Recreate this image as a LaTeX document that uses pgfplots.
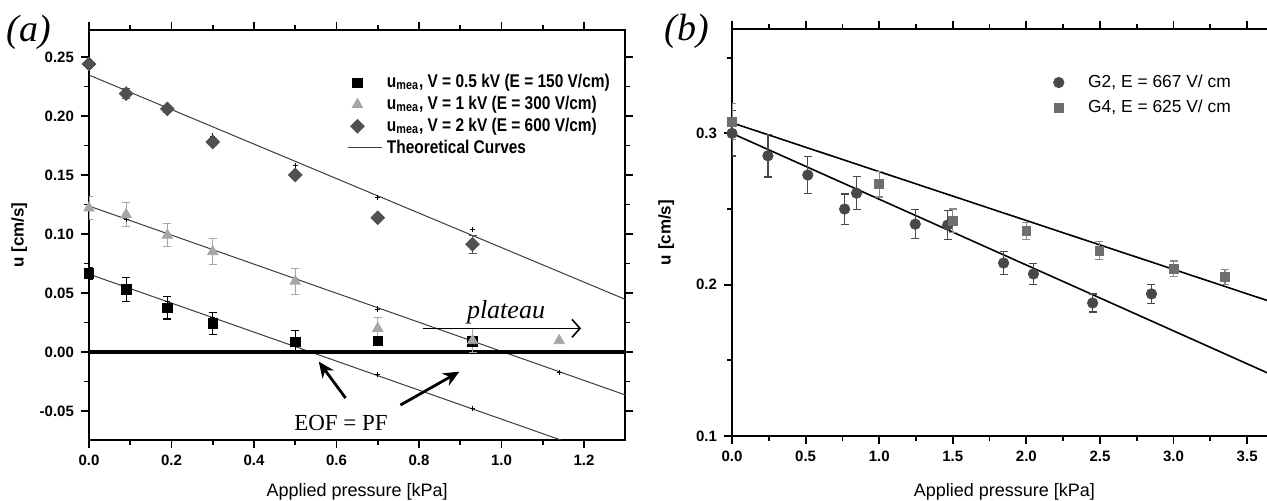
\documentclass[border=0pt]{standalone}
\usepackage{fontspec}
\setmainfont{Liberation Sans}
\newfontfamily\seriffont{Liberation Serif}
\newfontfamily\narrowfont{Liberation Sans}[FakeStretch=0.84]
\usepackage{pgfplots}
\pgfplotsset{compat=1.18}
\usetikzlibrary{arrows.meta}
\definecolor{lgray}{HTML}{A6A6A6}
\definecolor{dgray}{HTML}{505050}
\definecolor{cgray}{HTML}{484848}
\definecolor{sgray}{HTML}{6E6E6E}
\definecolor{tgray}{HTML}{3C3C3C}
\pgfplotsset{
  markleg/.style={legend image code/.code={\draw[##1] plot coordinates {(4.5pt,0pt)}; \path (0pt,0pt) (17pt,0pt);}},
  lineleg/.style={legend image code/.code={\draw[##1] (0pt,0pt) -- (17pt,0pt);}},
}
\begin{document}
\begin{tikzpicture}
\useasboundingbox (0,0) rectangle (633.5pt,250.5pt);
\pgfplotsset{
  myaxis/.style={
    scale only axis, anchor=south west,
    tick align=outside, major tick length=4pt, minor tick length=2.5pt,
    every tick/.style={black, line width=0.9pt},
    axis line style={line width=1.1pt},
    tick label style={font=\bfseries\fontsize{7.5}{8}\selectfont},
    legend cell align=left,
  }
}
% ---------------- panel (a) ----------------
\begin{axis}[myaxis,
  width=268.1pt, height=205pt, at={(44.5pt,30.5pt)},
  xmin=0, xmax=1.3, ymin=-0.0746, ymax=0.2729,
  xtick={0,0.2,0.4,0.6,0.8,1.0,1.2}, xticklabels={0.0,0.2,0.4,0.6,0.8,1.0,1.2},
  minor xtick={0.1,0.3,0.5,0.7,0.9,1.1},
  ytick={-0.05,0,0.05,0.1,0.15,0.2,0.25}, yticklabels={-0.05,0.00,0.05,0.10,0.15,0.20,0.25},
  minor ytick={-0.025,0.025,0.075,0.125,0.175,0.225},
  xlabel={Applied pressure [kPa]}, ylabel={u [cm/s]},
  xlabel style={font=\fontsize{9}{10}\selectfont, at={(axis description cs:0.5,-0.127)}, anchor=center},
  ylabel style={font=\bfseries\fontsize{8.5}{10}\selectfont, at={(axis description cs:-0.13,0.5)}, anchor=center},
  legend style={at={(axis cs:0.622,0.2405)}, anchor=north west, draw=none, fill=none,
    font=\narrowfont\bfseries\fontsize{9.2}{9.5}\selectfont, row sep=-1.3pt, inner sep=1pt},
]
% theoretical lines
\addplot[tgray, line width=0.5pt, forget plot] coordinates {(0,0.2347) (1.3,0.0446)};
\addplot[tgray, line width=0.5pt, forget plot] coordinates {(0,0.1237) (1.3,-0.0364)};
\addplot[tgray, line width=0.5pt, forget plot] coordinates {(0,0.0660) (1.3,-0.0938)};
% zero line
\addplot[black, line width=1.6pt, forget plot] coordinates {(0,0) (1.3,0)};
% theoretical points
\addplot[only marks, mark=+, mark size=1.3pt, black, line width=0.4pt, forget plot] coordinates {
 (0.09,0.2206) (0.19,0.208) (0.30,0.183) (0.50,0.158) (0.70,0.1308) (0.93,0.104)
 (0.09,0.1126) (0.19,0.1003) (0.30,0.0867) (0.50,0.0621) (0.70,0.0364) (0.93,0.0091) (1.14,-0.0172)
 (0.09,0.055) (0.19,0.0426) (0.30,0.0291) (0.50,0.0046) (0.70,-0.019) (0.93,-0.0477)
};
% measured data
\addplot[only marks, mark=square*, mark size=2.4pt, black, markleg,
  error bars/.cd, y dir=both, y explicit,
  error bar style={line width=0.6pt, black},
  error mark options={rotate=90, mark size=2pt, line width=0.6pt, black}]
  coordinates {
  (0,0.0667) +- (0,0.005)
  (0.09,0.0528) +- (0,0.010)
  (0.19,0.0375) +- (0,0.0095)
  (0.30,0.0240) +- (0,0.0095)
  (0.50,0.0085) +- (0,0.010)
  (0.70,0.0095) +- (0,0.002)
  (0.93,0.0088) +- (0,0.003)
};
\addlegendentry{u\textsubscript{mea}, V = 0.5 kV (E = 150 V/cm)}
\addplot[only marks, mark=triangle*, mark size=3pt, lgray, markleg,
  error bars/.cd, y dir=both, y explicit,
  error bar style={line width=0.6pt, lgray},
  error mark options={rotate=90, mark size=2pt, line width=0.6pt, lgray}]
  coordinates {
  (0,0.122) +- (0,0.0098)
  (0.09,0.1165) +- (0,0.010)
  (0.19,0.099) +- (0,0.0097)
  (0.30,0.085) +- (0,0.011)
  (0.50,0.060) +- (0,0.011)
  (0.70,0.020) +- (0,0.0095)
  (0.93,0.0096) +- (0,0.010)
  (1.14,0.0096) +- (0,0)
};
\addlegendentry{u\textsubscript{mea}, V = 1 kV (E = 300 V/cm)}
\addplot[only marks, mark=square*, mark options={rotate=45}, mark size=2.4pt, dgray, markleg,
  error bars/.cd, y dir=both, y explicit,
  error bar style={line width=0.6pt, dgray},
  error mark options={rotate=90, mark size=2pt, line width=0.6pt, dgray}]
  coordinates {
  (0,0.244) +- (0,0.002)
  (0.09,0.219) +- (0,0.0045)
  (0.19,0.206) +- (0,0.003)
  (0.30,0.178) +- (0,0.003)
  (0.50,0.150) +- (0,0.002)
  (0.70,0.1138) +- (0,0.002)
  (0.93,0.0913) +- (0,0.0077)
};
\addlegendentry{u\textsubscript{mea}, V = 2 kV (E = 600 V/cm)}
\addlegendimage{tgray, line width=0.5pt, lineleg}
\addlegendentry{Theoretical Curves}
% annotations
\node[font=\seriffont\itshape\fontsize{13}{14}\selectfont] at (axis cs:1.011,0.034) {plateau};
\draw[line width=0.8pt, -{Straight Barb[length=4pt,width=9pt]}] (axis cs:0.809,0.020) -- (axis cs:1.193,0.020);
\node[font=\seriffont\fontsize{11.5}{12}\selectfont] at (axis cs:0.611,-0.060) {EOF = PF};
\draw[line width=1.4pt, -{Stealth[length=8pt,width=7pt]}] (axis cs:0.622,-0.039) -- (axis cs:0.557,-0.0082);
\draw[line width=1.4pt, -{Stealth[length=8pt,width=7pt]}] (axis cs:0.755,-0.045) -- (axis cs:0.898,-0.0167);
\end{axis}
% ---------------- panel (b) ----------------
\begin{axis}[myaxis,
  width=272.3pt, height=203.5pt, at={(366pt,32.5pt)},
  axis line style={line width=0.9pt},
  xmin=0, xmax=3.7, ymin=0.1, ymax=0.369,
  xtick={0,0.5,1,1.5,2,2.5,3,3.5}, xticklabels={0.0,0.5,1.0,1.5,2.0,2.5,3.0,3.5},
  minor xtick={0.25,0.75,1.25,1.75,2.25,2.75,3.25},
  ytick={0.1,0.2,0.3}, yticklabels={0.1,0.2,0.3}, minor ytick={0.15,0.25,0.35},
  xlabel={Applied pressure [kPa]}, ylabel={u [cm/s]},
  xlabel style={font=\fontsize{9}{10}\selectfont, at={(axis description cs:0.5,-0.1376)}, anchor=center},
  ylabel style={font=\bfseries\fontsize{8.5}{10}\selectfont, at={(axis description cs:-0.121,0.5)}, anchor=center},
  legend style={at={(axis cs:2.14,0.343)}, anchor=north west, draw=none, fill=none,
    font=\fontsize{8.7}{9.5}\selectfont, row sep=0.8pt, inner sep=1pt},
]
\addplot[black, line width=0.8pt, forget plot] coordinates {(0,0.300) (3.7,0.139)};
\addplot[black, line width=0.8pt, forget plot] coordinates {(0,0.307) (3.7,0.1875)};
\addplot[only marks, mark=*, mark size=2.6pt, cgray, markleg,
  error bars/.cd, y dir=both, y explicit,
  error bar style={line width=0.6pt, cgray},
  error mark options={rotate=90, mark size=2pt, line width=0.6pt, cgray}]
  coordinates {
  (0,0.300) +- (0,0.015)
  (0.244,0.2852) +- (0,0.014)
  (0.515,0.2725) +- (0,0.012)
  (0.765,0.250) +- (0,0.010)
  (0.846,0.2605) +- (0,0.011)
  (1.245,0.240) +- (0,0.0095)
  (1.465,0.2394) +- (0,0.0095)
  (1.845,0.2143) +- (0,0.0077)
  (2.048,0.2071) +- (0,0.007)
  (2.45,0.1879) +- (0,0.006)
  (2.85,0.1939) +- (0,0.0064)
};
\addlegendentry{G2, E = 667 V/ cm}
\addplot[only marks, mark=square*, mark size=2.2pt, sgray, markleg,
  error bars/.cd, y dir=both, y explicit,
  error bar style={line width=0.6pt, sgray!80},
  error mark options={rotate=90, mark size=2pt, line width=0.6pt, sgray!80}]
  coordinates {
  (0,0.3077) +- (0,0.012)
  (1.0,0.2665) +- (0,0.0085)
  (1.50,0.2423) +- (0,0.0077)
  (2.0,0.2355) +- (0,0.0055)
  (2.496,0.2225) +- (0,0.006)
  (3.0,0.2106) +- (0,0.005)
  (3.35,0.2051) +- (0,0.005)
};
\addlegendentry{G4, E = 625 V/ cm}
\end{axis}
\node[font=\seriffont\itshape\fontsize{19}{20}\selectfont] at (14.5pt,234.3pt) {(a)};
\node[font=\seriffont\itshape\fontsize{19}{20}\selectfont] at (343.5pt,235pt) {(b)};
\end{tikzpicture}
\end{document}
